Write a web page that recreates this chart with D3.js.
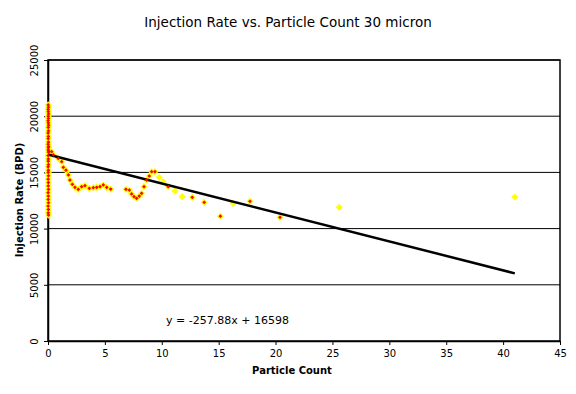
<!DOCTYPE html>
<html lang="en">
<head>
<meta charset="UTF-8">
<title>Injection Rate vs. Particle Count</title>
<script src="https://cdn.jsdelivr.net/npm/d3@7"></script>
<style>
  body { margin: 0; background: #fff; }
  text { font-family: "DejaVu Sans", Verdana, sans-serif; }
</style>
</head>
<body>
<svg id="chart" width="576" height="394"></svg>
<script>
// points stacked at particle count ~0
let zeroX = [0.02,0.04,0.01,0.03,0.05,0.02,0.04,0.01,0.03,0.05,0.02,0.04,0.01,0.03,0.02,0.04,0.01,0.03,0.02,0.04,
             0.01,0.03,0.02,0.04,0.01,0.03,0.02,0.04,0.01,0.03,0.02,0.04,0.01,0.03,0.02,0.04,0.01,0.03,0.02,0.04,0.05,0.06]
let zeroY = [21000,20800,20600,20400,20200,20000,19800,19600,19400,19200,19000,18700,18500,18200,18000,17700,17500,17200,17000,16800,
             16500,16200,16000,15700,15500,15200,15000,14700,14400,14100,13800,13500,13200,12900,12600,12300,12000,11700,11400,11200,17300,16900]

// the rest of the red-centred points
let curveX = [0.32,0.47,0.9,1.2,1.35,1.58,1.79,1.93,2.14,2.37,2.66,2.96,3.25,3.63,3.98,4.28,4.57,4.86,5.16,5.51,
              6.85,7.15,7.35,7.56,7.79,8.02,8.23,8.44,8.67,8.9,9.11,9.4,10.57,12.68,13.73,15.15,17.75,20.39]
let curveY = [16840,16550,16250,15950,15450,15200,14770,14320,13940,13670,13490,13730,13820,13580,13640,13670,13730,13880,13670,13520,
              13490,13430,13080,12840,12690,12900,13140,13730,14320,14680,15060,15060,13730,12780,12340,11100,12430,11000]

// plain yellow points
let plainX = [9.78,10.13,11.16,11.8,16.27,25.6,41.03]
let plainY = [14560,14170,13340,12840,12250,11890,12810]

// trendline
let slope = -257.88
let intercept = 16598

let xTicks = [0,5,10,15,20,25,30,35,40,45]
let yTicks = [0,5000,10000,15000,20000,25000]

let svg = d3.select("#chart")
let pl = 48, pr = 560, pt = 60, pb = 341

let x = d3.scaleLinear().domain([0,45]).range([pl,pr])
let y = d3.scaleLinear().domain([0,25000]).range([pb,pt])

svg.append("text")
  .attr("x",288).attr("y",27)
  .attr("text-anchor","middle")
  .attr("font-size","13.5px")
  .text("Injection Rate vs. Particle Count 30 micron")

// gridlines
svg.append("g").selectAll("line").data(yTicks.slice(1))
  .enter().append("line")
  .attr("x1",pl).attr("x2",pr)
  .attr("y1",d=>y(d)).attr("y2",d=>y(d))
  .attr("stroke","black").attr("stroke-width",1)

svg.append("rect")
  .attr("x",pl).attr("y",pt)
  .attr("width",pr-pl).attr("height",pb-pt)
  .attr("fill","none").attr("stroke","black").attr("stroke-width",1.5)

let xaxis = d3.axisBottom(x).tickValues(xTicks).tickSize(4).tickSizeOuter(0)
let gx = svg.append("g").attr("transform","translate(0,"+pb+")").call(xaxis)
gx.selectAll("text").attr("font-size","10px").attr("font-family","DejaVu Sans").attr("dy","0.9em")

let yaxis = d3.axisLeft(y).tickValues(yTicks).tickFormat(d3.format("d")).tickSize(4).tickSizeOuter(0)
let gy = svg.append("g").attr("transform","translate("+pl+",0)").call(yaxis)
gy.selectAll("text")
  .attr("font-size","10px").attr("font-family","DejaVu Sans")
  .attr("text-anchor","middle").attr("x",0).attr("y",0).attr("dy","0.35em")
  .attr("transform","translate(-14,0) rotate(-90)")
gy.selectAll(".domain").attr("stroke-width",1.5)
gx.selectAll(".domain").attr("stroke-width",1.5)

svg.append("text")
  .attr("x",292).attr("y",374)
  .attr("text-anchor","middle")
  .attr("font-size","10px").attr("font-weight","bold")
  .text("Particle Count")

svg.append("text")
  .attr("transform","translate(23,200) rotate(-90)")
  .attr("text-anchor","middle")
  .attr("font-size","10px").attr("font-weight","bold")
  .text("Injection Rate (BPD)")

let red = zeroX.map((d,i)=>({x:d,y:zeroY[i]}))
  .concat(curveX.map((d,i)=>({x:d,y:curveY[i]})))
let plain = plainX.map((d,i)=>({x:d,y:plainY[i]}))
let all = red.concat(plain)

let big = d3.symbol().type(d3.symbolSquare).size(26)
let small = d3.symbol().type(d3.symbolSquare).size(7)

svg.append("g").selectAll("path").data(all)
  .enter().append("path")
  .attr("d",big)
  .attr("transform",d=>"translate("+x(d.x)+","+y(d.y)+") rotate(45)")
  .attr("fill","#ffff00")

// trendline over the data range
let maxX = d3.max(all,d=>d.x)
svg.append("line")
  .attr("x1",x(0)).attr("y1",y(intercept))
  .attr("x2",x(maxX)).attr("y2",y(slope*maxX+intercept))
  .attr("stroke","black").attr("stroke-width",2.5)

svg.append("g").selectAll("path").data(red)
  .enter().append("path")
  .attr("d",small)
  .attr("transform",d=>"translate("+x(d.x)+","+y(d.y)+") rotate(45)")
  .attr("fill","#ff0000")

svg.append("text")
  .attr("x",166).attr("y",324)
  .attr("font-size","11px").attr("font-family","Liberation Sans")
  .text("y = "+slope+"x + "+intercept)
</script>
</body>
</html>
